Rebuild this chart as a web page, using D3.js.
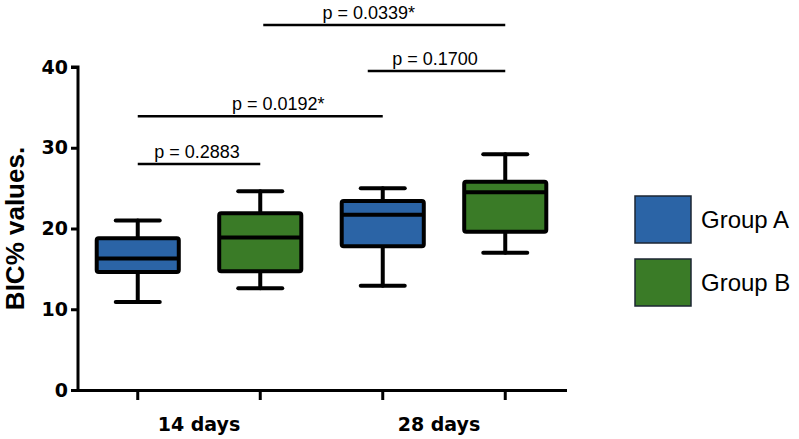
<!DOCTYPE html>
<html lang="en">
  <head>
    <meta charset="UTF-8" />
    <title>BIC% values</title>
    <script src="https://cdn.jsdelivr.net/npm/d3@7"></script>
    <style>
      body { margin: 0; background: #fff; }
      svg { display: block; }
    </style>
  </head>
  <body>
    <svg width="799" height="439"></svg>
    <script>
      // data
      const days = ["14 days", "28 days"];
      const groups = ["Group A", "Group B"];
      const groupColors = ["#2b64a6", "#3a7b27"];
      // [whisker low, q1, median, q3, whisker high] per day, per group
      const groupA = [[10.9, 14.6, 16.3, 18.8, 21.0], [12.9, 17.8, 21.7, 23.4, 25.0]];
      const groupB = [[12.6, 14.7, 18.9, 21.9, 24.6], [17.0, 19.6, 24.5, 25.8, 29.2]];
      const yTicks = [0, 10, 20, 30, 40];
      // comparisons: [day, group] from, [day, group] to, height, label
      const comparisons = [
        { from: [0, 0], to: [0, 1], y: 28.0, label: "p = 0.2883" },
        { from: [0, 0], to: [1, 0], y: 33.9, label: "p = 0.0192*" },
        { from: [1, 0], to: [1, 1], y: 39.5, label: "p = 0.1700" },
        { from: [0, 1], to: [1, 1], y: 45.2, label: "p = 0.0339*" }
      ];
      // small nudges so labels/bars sit like the original
      const labelShift = [-2, 18, -9, -14];
      const barStartShift = [0, 0, -15, 3];

      const svg = d3.select("svg");
      const x0 = 78, x1 = 567;
      const sans = "'Liberation Sans', Arial, sans-serif";
      const wide = "'DejaVu Sans', sans-serif";

      const y = d3.scaleLinear().domain([0, 40]).range([390, 67]);
      const xDay = d3.scaleBand().domain(days).range([76.5, 566.5]);
      const xGroup = d3.scaleBand().domain(groups).range([0, xDay.bandwidth()]);
      const boxW = xGroup.bandwidth() * 0.67;
      const capW = 44;

      const cx = (d, g) => xDay(days[d]) + xGroup(groups[g]) + xGroup.bandwidth() / 2;

      const boxes = [];
      days.forEach((day, d) => {
        [groupA, groupB].forEach((series, g) => {
          const [lo, q1, med, q3, hi] = series[d];
          boxes.push({ d, g, lo, q1, med, q3, hi });
        });
      });

      // y axis
      const yAxis = d3.axisLeft(y).tickValues(yTicks).tickSize(7).tickPadding(3);
      const gy = svg.append("g").attr("transform", `translate(${x0},0)`).call(yAxis);
      gy.select(".domain").attr("d", `M-7,${y(40)}H0V${y(0) + 1.5}`)
        .attr("stroke", "#000").attr("stroke-width", 3);
      gy.selectAll(".tick line").attr("stroke", "#000").attr("stroke-width", 3);
      gy.selectAll(".tick text")
        .attr("fill", "#000")
        .style("font-family", wide)
        .style("font-weight", "bold")
        .style("font-size", "19px");

      // x axis (ticks at every box)
      const tickPos = boxes.map(b => cx(b.d, b.g));
      svg.append("line")
        .attr("x1", x0 - 1.5).attr("x2", x1)
        .attr("y1", y(0) + 0.5).attr("y2", y(0) + 0.5)
        .attr("stroke", "#000").attr("stroke-width", 3);
      svg.append("g").selectAll("line").data(tickPos).join("line")
        .attr("x1", d => d).attr("x2", d => d)
        .attr("y1", y(0)).attr("y2", y(0) + 10)
        .attr("stroke", "#000").attr("stroke-width", 3);
      svg.append("g").selectAll("text").data(days).join("text")
        .attr("x", (d, i) => xDay(d) + xDay.bandwidth() / 2 - i * 5)
        .attr("y", 431)
        .attr("text-anchor", "middle")
        .style("font-family", wide)
        .style("font-weight", "bold")
        .style("font-size", "19px")
        .text(d => d);

      // y label
      svg.append("text")
        .attr("transform", `translate(24,${(y(0) + y(40)) / 2}) rotate(-90)`)
        .attr("text-anchor", "middle")
        .style("font-family", sans)
        .style("font-weight", "bold")
        .style("font-size", "26px")
        .text("BIC% values.");

      // boxes
      const bg = svg.append("g").selectAll("g").data(boxes).join("g")
        .attr("stroke", "#000").attr("stroke-width", 4)
        .attr("stroke-linecap", "round");
      bg.append("line")
        .attr("x1", d => cx(d.d, d.g)).attr("x2", d => cx(d.d, d.g))
        .attr("y1", d => y(d.lo)).attr("y2", d => y(d.hi));
      bg.append("line")
        .attr("x1", d => cx(d.d, d.g) - capW / 2).attr("x2", d => cx(d.d, d.g) + capW / 2)
        .attr("y1", d => y(d.lo)).attr("y2", d => y(d.lo));
      bg.append("line")
        .attr("x1", d => cx(d.d, d.g) - capW / 2).attr("x2", d => cx(d.d, d.g) + capW / 2)
        .attr("y1", d => y(d.hi)).attr("y2", d => y(d.hi));
      bg.append("rect")
        .attr("x", d => cx(d.d, d.g) - boxW / 2)
        .attr("y", d => y(d.q3))
        .attr("width", boxW)
        .attr("height", d => y(d.q1) - y(d.q3))
        .attr("rx", 2)
        .attr("fill", d => groupColors[d.g]);
      bg.append("line")
        .attr("x1", d => cx(d.d, d.g) - boxW / 2).attr("x2", d => cx(d.d, d.g) + boxW / 2)
        .attr("y1", d => y(d.med)).attr("y2", d => y(d.med))
        .attr("stroke-linecap", "butt");

      // significance bars
      const cg = svg.append("g").selectAll("g").data(comparisons).join("g");
      cg.append("line")
        .attr("x1", (d, i) => cx(d.from[0], d.from[1]) + barStartShift[i])
        .attr("x2", d => cx(d.to[0], d.to[1]))
        .attr("y1", d => y(d.y)).attr("y2", d => y(d.y))
        .attr("stroke", "#000").attr("stroke-width", 2.5);
      cg.append("text")
        .attr("x", (d, i) => (cx(d.from[0], d.from[1]) + cx(d.to[0], d.to[1])) / 2 + labelShift[i])
        .attr("y", d => y(d.y) - 6)
        .attr("text-anchor", "middle")
        .style("font-family", sans)
        .style("font-size", "18px")
        .text(d => d.label);

      // legend
      const lg = svg.append("g").selectAll("g").data(groups).join("g")
        .attr("transform", (d, i) => `translate(635,${196 + i * 63})`);
      lg.append("rect")
        .attr("width", 56).attr("height", 47)
        .attr("fill", (d, i) => groupColors[i])
        .attr("stroke", "#1c2633").attr("stroke-width", 1.5);
      lg.append("text")
        .attr("x", 66).attr("y", 32)
        .style("font-family", sans)
        .style("font-size", "24px")
        .text(d => d);
    </script>
  </body>
</html>
